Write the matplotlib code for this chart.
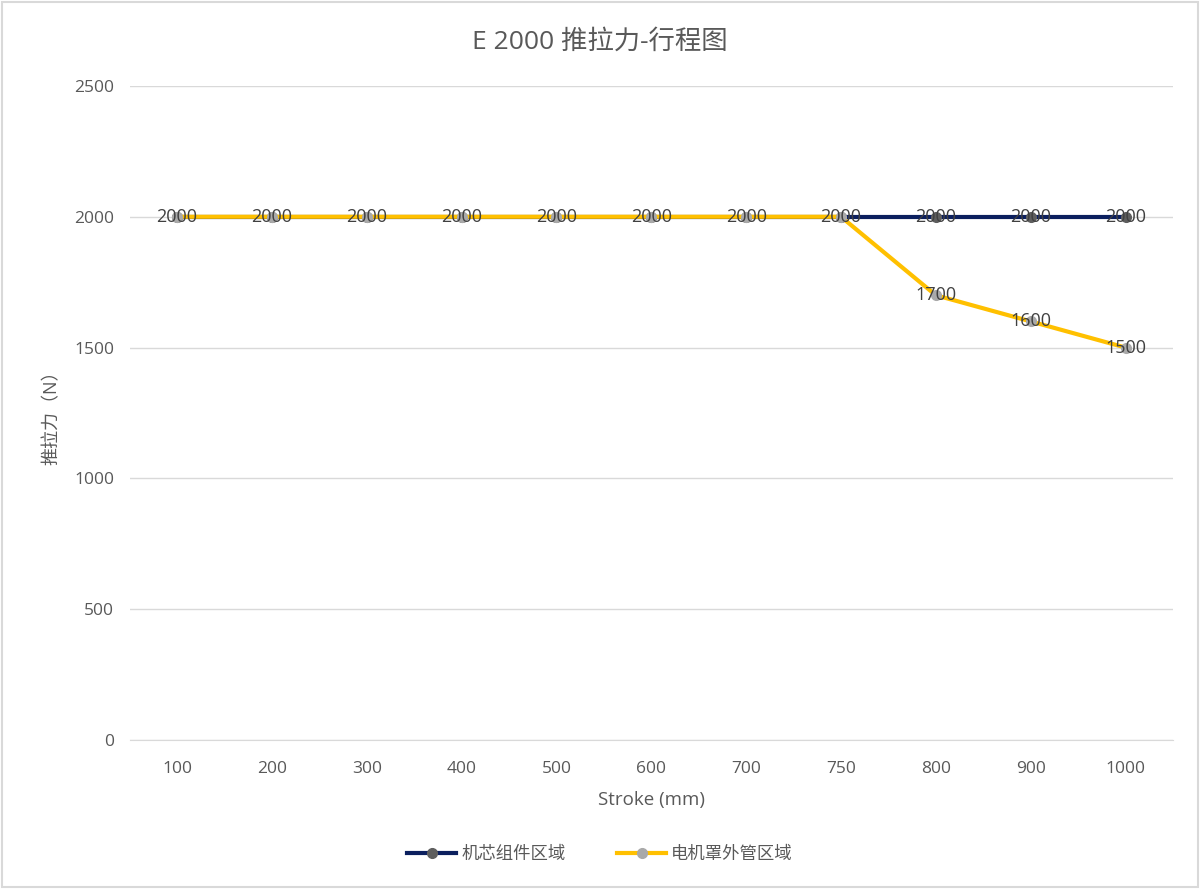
import matplotlib
matplotlib.use("Agg")
import matplotlib.pyplot as plt
from matplotlib.patches import Rectangle

plt.rcParams['font.family'] = ['Open Sans', 'Noto Sans CJK SC', 'DejaVu Sans']

categories = ['100', '200', '300', '400', '500', '600', '700', '750', '800', '900', '1000']
core_values = [2000, 2000, 2000, 2000, 2000, 2000, 2000, 2000, 2000, 2000, 2000]
tube_values = [2000, 2000, 2000, 2000, 2000, 2000, 2000, 2000, 1700, 1600, 1500]
series_names = ['机芯组件区域', '电机罩外管区域']
title = 'E 2000 推拉力-行程图'
xlabel = 'Stroke (mm)'
ylabel = '推拉力（N）'
yticks = [0, 500, 1000, 1500, 2000, 2500]

fig = plt.figure(figsize=(12, 8.89), dpi=100)
ax = fig.add_axes([0.108, 0.1676, 0.8695, 0.7357])

x = list(range(len(categories)))
ax.plot(x, core_values, color='#0B1F5E', lw=3, marker='o', ms=7,
        mfc='#5E5E5E', mec='#5E5E5E', label=series_names[0], zorder=3)
ax.plot(x, tube_values, color='#FFC000', lw=3, marker='o', ms=7,
        mfc='#A9A9A9', mec='#A9A9A9', label=series_names[1], zorder=4)

for xi, v in zip(x, core_values):
    ax.text(xi, v, str(v), ha='center', va='center', fontsize=13,
            color='#404040', zorder=5)
for xi, v in zip(x, tube_values):
    if v != core_values[xi]:
        ax.text(xi, v, str(v), ha='center', va='center', fontsize=13,
                color='#404040', zorder=5)

ax.set_xlim(-0.5, len(categories) - 0.5)
ax.set_ylim(0, 2500)
ax.set_xticks(x)
ax.set_xticklabels(categories)
ax.set_yticks(yticks)
ax.tick_params(axis='x', length=0, labelsize=12.5, colors='#595959', pad=15)
ax.tick_params(axis='y', length=0, labelsize=12.5, colors='#595959', pad=11)
ax.grid(axis='y', color='#D9D9D9', lw=1)
ax.set_axisbelow(True)
for s in ['top', 'right', 'left']:
    ax.spines[s].set_visible(False)
ax.spines['bottom'].set_color('#D9D9D9')

ax.set_xlabel(xlabel, fontsize=13.5, color='#595959', labelpad=10)
ax.set_ylabel(ylabel, fontsize=13, color='#595959', labelpad=10)
fig.text(0.5, 0.953, title, ha='center', va='center', fontsize=19, color='#595959')

fig.legend(loc='center', bbox_to_anchor=(0.5, 0.038), ncol=2, frameon=False,
           fontsize=12.5, labelcolor='#595959', handlelength=2.8, columnspacing=3,
           handletextpad=0.3)

fig.patches.append(Rectangle((0.002, 0.002), 0.996, 0.996, transform=fig.transFigure,
                             fill=False, edgecolor='#D9D9D9', lw=1.5))

fig.savefig('out.png', dpi=100, facecolor='white')
